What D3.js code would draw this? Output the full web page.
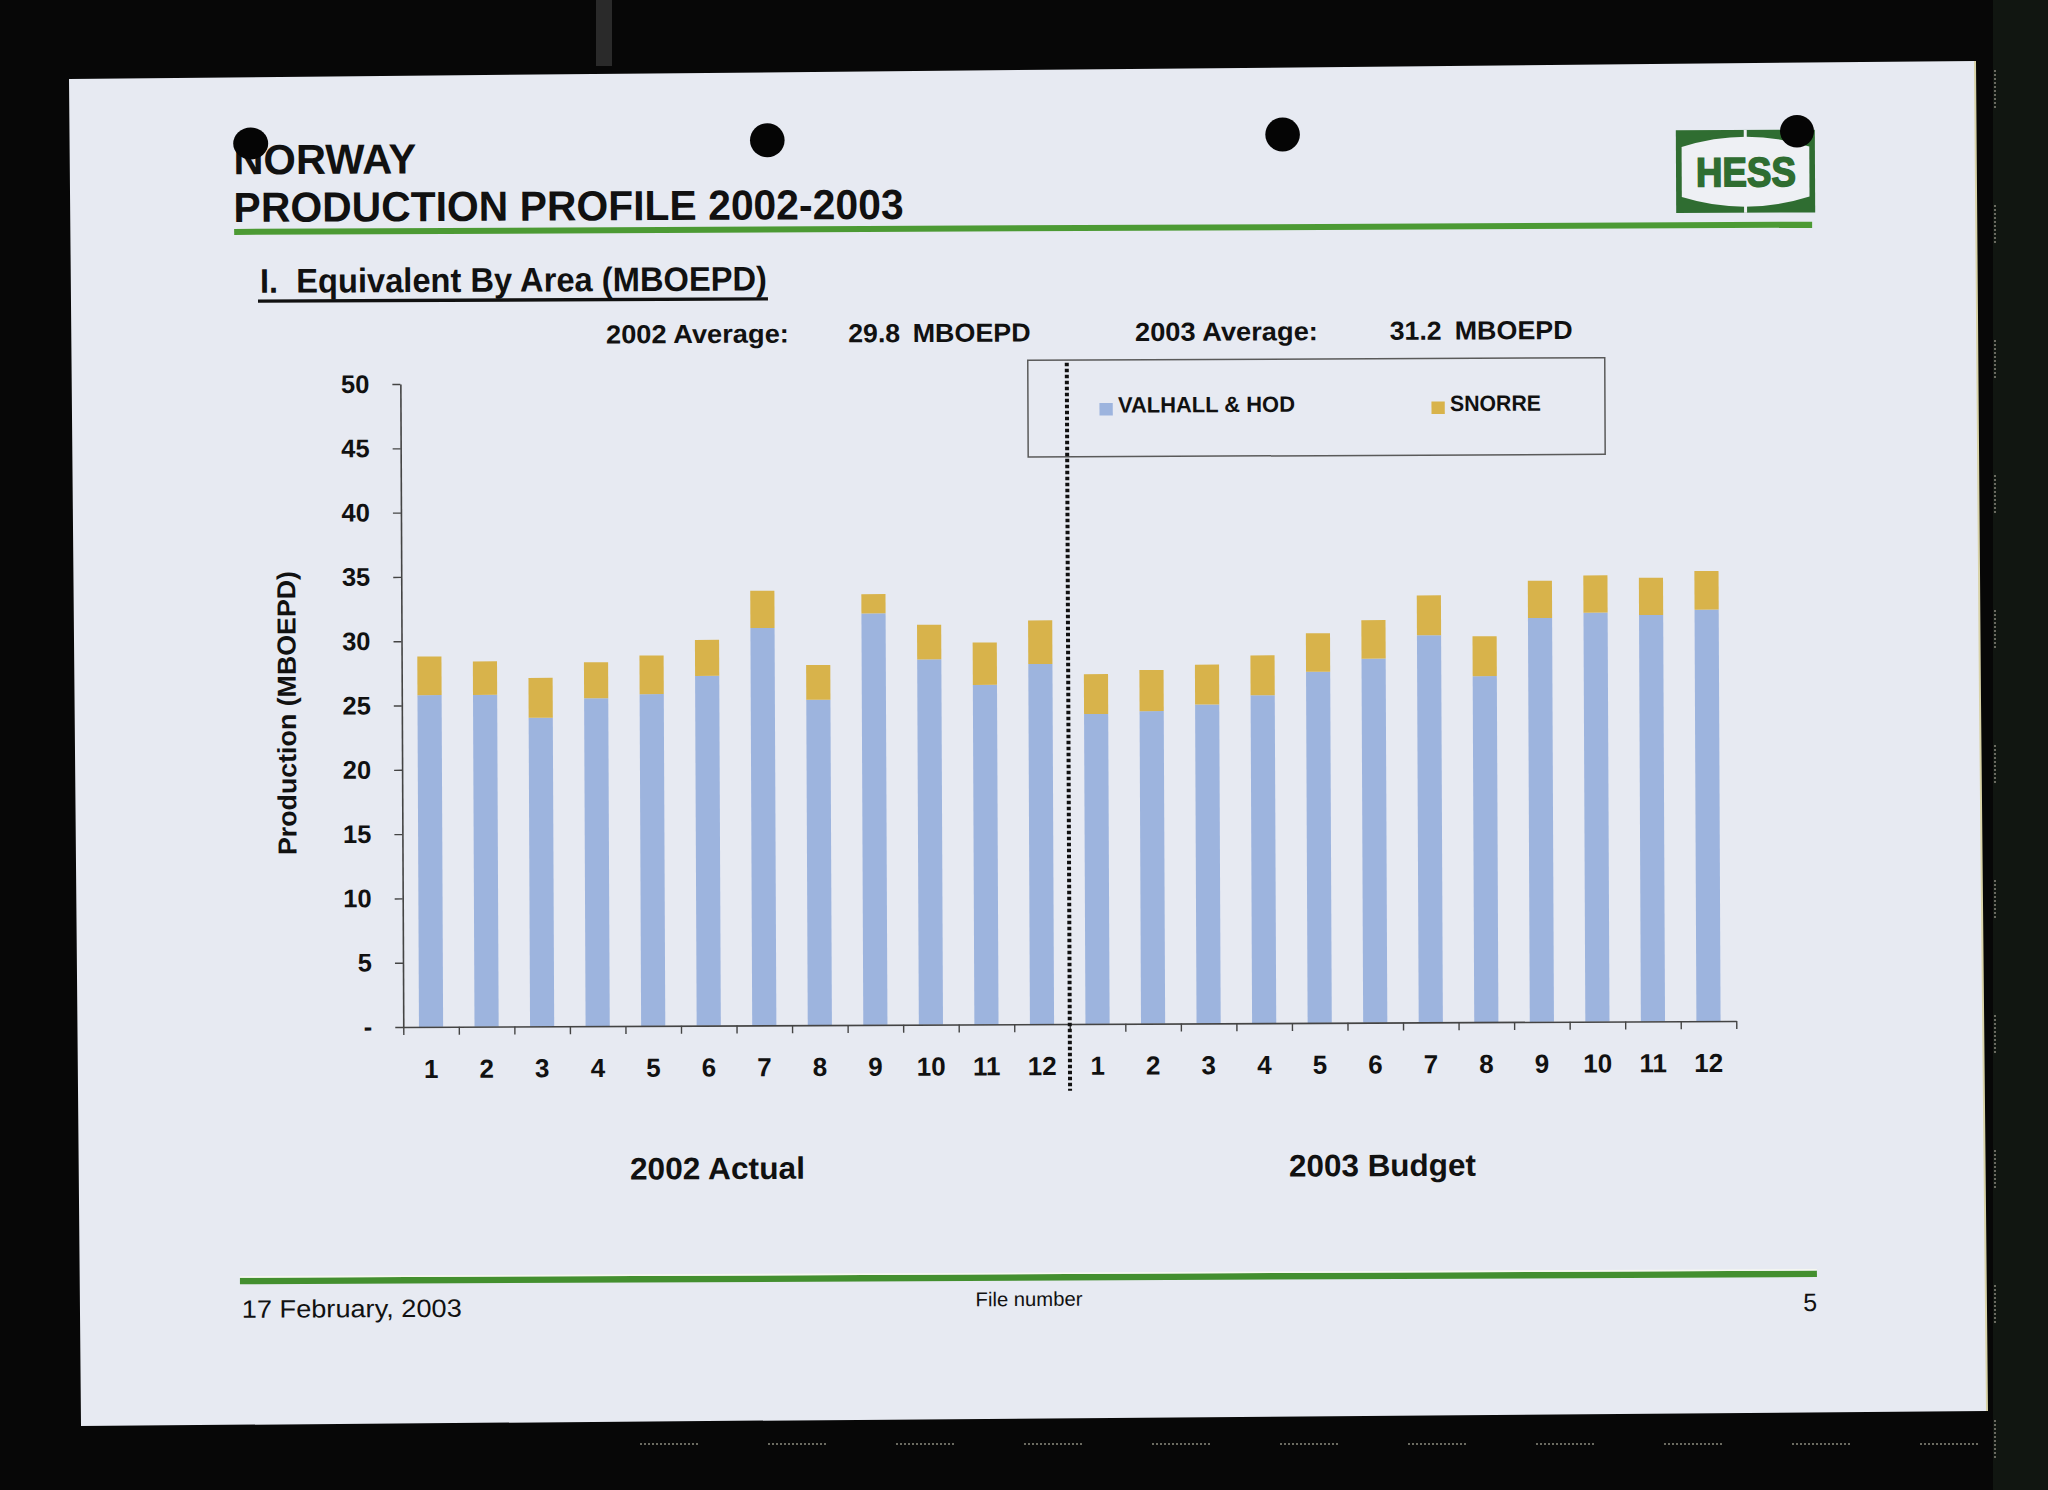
<!DOCTYPE html>
<html><head><meta charset="utf-8">
<script src="https://cdn.jsdelivr.net/npm/d3@7"></script>
<style>
html,body{margin:0;padding:0;background:#070707;}
svg{display:block;}
text{font-family:"Liberation Sans", Arial, sans-serif;fill:#111;}
</style></head><body>
<svg id="c" width="2048" height="1490"></svg>
<script>
// ---------------- data ----------------
const months = ["1","2","3","4","5","6","7","8","9","10","11","12"];
const years = ["2002","2003"];
const valhall2002 = [25.8, 25.8, 24.0, 25.5, 25.8, 27.2, 30.9, 25.3, 32.0, 28.4, 26.4, 28.0];
const snorre2002  = [3.0, 2.6, 3.1, 2.8, 3.0, 2.8, 2.9, 2.7, 1.5, 2.7, 3.3, 3.4];
const valhall2003 = [24.1, 24.3, 24.8, 25.5, 27.3, 28.3, 30.1, 26.9, 31.4, 31.8, 31.6, 32.0];
const snorre2003  = [3.1, 3.2, 3.1, 3.1, 3.0, 3.0, 3.1, 3.1, 2.9, 2.9, 2.9, 3.0];
const seriesKeys = ["valhall", "snorre"];
const seriesNames = ["VALHALL & HOD", "SNORRE"];
const yTicks = [0, 5, 10, 15, 20, 25, 30, 35, 40, 45, 50];
const groupLabels = ["2002 Actual", "2003 Budget"];
const averageLabels = ["2002 Average:", "2003 Average:"];
const averageValues = ["29.8", "31.2"];
const averageUnit = "MBOEPD";
const titleLines = ["NORWAY", "PRODUCTION PROFILE 2002-2003"];
const sectionTitle = "I.  Equivalent By Area (MBOEPD)";
const yTitle = "Production (MBOEPD)";
const footerDate = "17 February, 2003";
const footerFile = "File number";
const pageNumber = "5";

// table built from arrays
const categories = [];
const rows = [];
years.forEach((yr, gi) => {
  months.forEach((m, i) => {
    const cat = yr + "-" + m;
    categories.push(cat);
    rows.push({
      cat: cat, month: m,
      valhall: gi === 0 ? valhall2002[i] : valhall2003[i],
      snorre:  gi === 0 ? snorre2002[i]  : snorre2003[i]
    });
  });
});

const colors = {valhall: "#9db4de", snorre: "#d8b34b"};

// ---------------- drawing ----------------
const svg = d3.select("#c");
svg.append("rect").attr("width", 2048).attr("height", 1490).attr("fill", "#070707");
svg.append("rect").attr("x", 1993).attr("y", 0).attr("width", 55).attr("height", 1490).attr("fill", "#111611");
svg.append("rect").attr("x", 596).attr("y", 0).attr("width", 16).attr("height", 66).attr("fill", "#2a2a2a");
// scanner border marks
const marks = svg.append("g").attr("stroke", "#6a6a60").attr("stroke-width", 2).attr("stroke-dasharray", "2 2");
d3.range(11).forEach(i => {
  marks.append("line").attr("x1", 1995).attr("x2", 1995).attr("y1", 70 + i * 135).attr("y2", 110 + i * 135);
});
d3.range(11).forEach(i => {
  marks.append("line").attr("x1", 640 + i * 128).attr("x2", 700 + i * 128).attr("y1", 1444).attr("y2", 1444);
});

// paper
svg.append("path").attr("d", "M69,79 L1975,61 L1980,700 L1987,1411 L81,1426 Z").attr("fill", "#e7eaf2");
svg.append("path").attr("d", "M1975,61 L1980,700 L1987,1411").attr("fill", "none").attr("stroke", "#d9d3a8").attr("stroke-width", 2);

const g = svg.append("g").attr("transform", "rotate(-0.26 1024 745)");

// header
g.append("text").attr("x", 236).attr("y", 170.7).attr("font-size", 42).attr("font-weight", "bold")
  .attr("textLength", 183).attr("lengthAdjust", "spacingAndGlyphs").text(titleLines[0]);
g.append("text").attr("x", 236).attr("y", 218.4).attr("font-size", 42).attr("font-weight", "bold")
  .attr("textLength", 670).attr("lengthAdjust", "spacingAndGlyphs").text(titleLines[1]);
g.append("rect").attr("x", 236.5).attr("y", 225.3).attr("width", 1578).attr("height", 6).attr("fill", "#4c9a34");

// HESS logo
const logo = g.append("g");
logo.append("rect").attr("x", 1678.6).attr("y", 133.3).attr("width", 139).attr("height", 82.7).attr("fill", "#2f6d31");
logo.append("path").attr("d", "M1684.3,150 Q1748,130 1812,150 L1812,200 Q1748,220 1684.3,200 Z").attr("fill", "#eef0f4");
logo.append("rect").attr("x", 1746.5).attr("y", 133.3).attr("width", 3).attr("height", 82.7).attr("fill", "#eef0f4");
logo.append("text").attr("x", 1698.5).attr("y", 189.5).attr("font-size", 41).attr("font-weight", "bold")
  .attr("textLength", 100).attr("lengthAdjust", "spacingAndGlyphs")
  .style("fill", "#2f6d31").style("stroke", "#2f6d31").style("stroke-width", 1.6).text("HESS");

// section title
g.append("text").attr("x", 262).attr("y", 289.3).attr("font-size", 34).attr("font-weight", "bold")
  .attr("textLength", 507).attr("lengthAdjust", "spacingAndGlyphs").style("white-space", "pre").text(sectionTitle);
g.append("rect").attr("x", 260).attr("y", 296).attr("width", 510).attr("height", 3.3).attr("fill", "#111");

// averages
const avgLabelX = [607.8, 1136.8];
const avgValueX = [850, 1391.5];
const avgUnitX = [914.5, 1456.5];
averageLabels.forEach((lab, i) => {
  g.append("text").attr("x", avgLabelX[i]).attr("y", 341.5).attr("font-size", 26).attr("font-weight", "bold")
    .attr("textLength", 183).attr("lengthAdjust", "spacingAndGlyphs").text(lab);
  g.append("text").attr("x", avgValueX[i]).attr("y", 341.5).attr("font-size", 26).attr("font-weight", "bold")
    .attr("textLength", 52).attr("lengthAdjust", "spacingAndGlyphs").text(averageValues[i]);
  g.append("text").attr("x", avgUnitX[i]).attr("y", 341.5).attr("font-size", 26).attr("font-weight", "bold")
    .attr("textLength", 118).attr("lengthAdjust", "spacingAndGlyphs").text(averageUnit);
});

// scales
const x = d3.scaleBand().domain(categories).range([402, 1735]).paddingInner(0.565).paddingOuter(0.2825);
const xb = d3.scaleLinear().domain([0, categories.length]).range([402, 1735]);
const y = d3.scaleLinear().domain([0, 50]).range([1024.2, 381.2]);

// legend box
g.append("rect").attr("x", 1029.5).attr("y", 360.3).attr("width", 577).attr("height", 96.7)
  .attr("fill", "none").attr("stroke", "#5a5a5a").attr("stroke-width", 1.5);
const legX = [1101, 1433];
seriesKeys.forEach((k, i) => {
  g.append("rect").attr("x", legX[i]).attr("y", 403.4).attr("width", 13.3).attr("height", 12.5).attr("fill", colors[k]);
  g.append("text").attr("x", legX[i] + 18.5).attr("y", 413).attr("font-size", 22).attr("font-weight", "bold")
    .attr("textLength", i === 0 ? 177 : 91).attr("lengthAdjust", "spacingAndGlyphs").text(seriesNames[i]);
});

// bars
const stack = d3.stack().keys(seriesKeys)(rows);
g.append("g").selectAll("g").data(stack).join("g")
  .attr("fill", d => colors[d.key])
  .selectAll("rect").data(d => d).join("rect")
  .attr("x", d => x(d.data.cat))
  .attr("width", x.bandwidth())
  .attr("y", d => y(d[1]))
  .attr("height", d => y(d[0]) - y(d[1]));

// y axis
const yAxis = g.append("g").attr("transform", "translate(402,0)")
  .call(d3.axisLeft(y).tickValues(yTicks).tickSize(8).tickSizeOuter(0).tickPadding(23)
    .tickFormat(d => d === 0 ? "-" : d));
yAxis.select(".domain").attr("stroke", "#444").attr("stroke-width", 1.6);
yAxis.selectAll(".tick line").attr("stroke", "#444").attr("stroke-width", 1.4);
yAxis.selectAll("text").attr("font-size", 25.5).attr("font-weight", "bold").attr("font-family", "Liberation Sans, Arial, sans-serif").attr("fill", "#111");

// x axis line + boundary ticks
const xAxis = g.append("g").attr("transform", "translate(0,1024.2)")
  .call(d3.axisBottom(xb).tickValues(d3.range(categories.length + 1)).tickSize(8).tickSizeOuter(0).tickFormat(""));
xAxis.select(".domain").attr("stroke", "#444").attr("stroke-width", 1.6);
xAxis.selectAll(".tick line").attr("stroke", "#444").attr("stroke-width", 1.4);

// x labels
const xLab = g.append("g").attr("transform", "translate(0,1024.2)")
  .call(d3.axisBottom(x).tickSize(0).tickPadding(32.5).tickFormat(c => c.split("-")[1]));
xLab.select(".domain").remove();
xLab.selectAll("text").attr("font-size", 26).attr("font-weight", "bold").attr("font-family", "Liberation Sans, Arial, sans-serif").attr("fill", "#111");

// dotted separator
g.append("line").attr("x1", xb(months.length)).attr("x2", xb(months.length)).attr("y1", 363).attr("y2", 1091)
  .attr("stroke", "#111").attr("stroke-width", 4).attr("stroke-dasharray", "3.5 2.5");

// y title
g.append("text").attr("transform", "translate(296,709.7) rotate(-90)").attr("text-anchor", "middle")
  .attr("font-size", 26).attr("font-weight", "bold").attr("textLength", 284).attr("lengthAdjust", "spacingAndGlyphs").text(yTitle);

// group labels
const grpX = [628, 1287];
const grpW = [175, 187];
groupLabels.forEach((lab, i) => {
  g.append("text").attr("x", grpX[i]).attr("y", 1177.7).attr("font-size", 31).attr("font-weight", "bold")
    .attr("textLength", grpW[i]).attr("lengthAdjust", "spacingAndGlyphs").text(lab);
});

// footer
g.append("rect").attr("x", 237.5).attr("y", 1274.2).attr("width", 1577).attr("height", 6.5).attr("fill", "#438f2f");
g.append("rect").attr("x", 237.5).attr("y", 1272.6).attr("width", 1577).attr("height", 1.6).attr("fill", "#f6f8f0");
g.append("text").attr("x", 239.2).attr("y", 1314.2).attr("font-size", 25)
  .attr("textLength", 220).attr("lengthAdjust", "spacingAndGlyphs").text(footerDate);
g.append("text").attr("x", 973).attr("y", 1306).attr("font-size", 20)
  .attr("textLength", 107).attr("lengthAdjust", "spacingAndGlyphs").text(footerFile);
g.append("text").attr("x", 1814.5).attr("y", 1314.6).attr("font-size", 25).attr("text-anchor", "end").text(pageNumber);

// punch holes
const holes = svg.append("g").attr("fill", "#050505");
holes.append("ellipse").attr("cx", 250.7).attr("cy", 143.5).attr("rx", 17.5).attr("ry", 16);
holes.append("ellipse").attr("cx", 767.3).attr("cy", 140.3).attr("rx", 17.3).attr("ry", 17);
holes.append("ellipse").attr("cx", 1282.6).attr("cy", 134.5).attr("rx", 17.3).attr("ry", 17);
holes.append("ellipse").attr("cx", 1797).attr("cy", 131.2).attr("rx", 17).attr("ry", 16.2);
</script>
</body></html>
